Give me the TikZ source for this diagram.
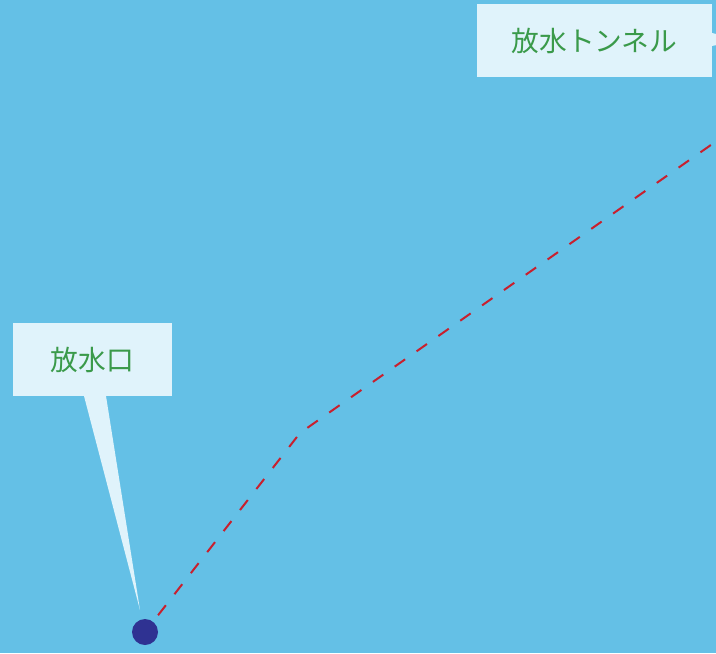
\documentclass[tikz,border=0pt]{standalone}
\usepackage{fontspec}
\newfontfamily\jpfont{Noto Sans CJK JP}
\definecolor{seabg}{HTML}{64C0E6}
\definecolor{boxfill}{HTML}{E0F3FB}
\definecolor{labelgreen}{HTML}{3A9A4A}
\definecolor{dotblue}{HTML}{2F3292}
\definecolor{routered}{HTML}{C8202E}
\tikzset{
  calloutbox/.style={fill=boxfill, draw=none, inner sep=0pt, font=\jpfont\fontsize{20.8}{24}\selectfont, text=labelgreen, anchor=center},
  route/.style={draw=routered, line width=1.5pt, dash pattern=on 9.5pt off 10.5pt},
  pointer/.style={fill=boxfill, draw=none}
}
\begin{document}
\begin{tikzpicture}[x=0.75pt,y=-0.75pt]
\useasboundingbox (0,0) rectangle (716,653);
\clip (0,0) rectangle (716,653);
\fill[seabg] (0,0) rectangle (716,653);
% pointers
\fill[pointer] (84,396) -- (106,396) -- (140,610) -- cycle;
\fill[pointer] (712,33) -- (712,46) -- (740,40) -- cycle;
% boxes
\node[calloutbox, minimum width=176.25pt, minimum height=54.75pt] (tunnel) at (594.5,40.5) {放水トンネル};
\node[calloutbox, minimum width=119.25pt, minimum height=54.75pt] (outlet) at (92.5,359.5) {放水口};
% dot and route
\node[circle, fill=dotblue, minimum size=19.5pt, inner sep=0pt] (dot) at (145,632) {};
\coordinate (bend) at (300,433);
\coordinate (edge) at (718,140);
\draw[route, shorten <=6pt] (dot) -- (bend) -- (edge);
\end{tikzpicture}
\end{document}
